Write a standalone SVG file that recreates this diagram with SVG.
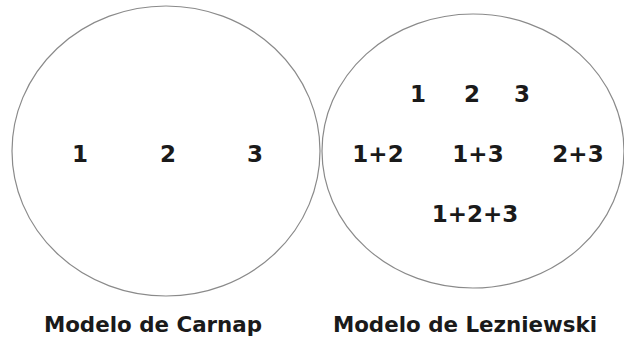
<svg xmlns="http://www.w3.org/2000/svg" width="624" height="339" viewBox="0 0 624 339">
<style>
.c{fill:none;stroke:#8a8a8a;stroke-width:1.2}
.t{font-family:"DejaVu Sans","Verdana",sans-serif;font-weight:bold;font-size:23px;fill:#1a1a1a;text-anchor:middle}
.l{font-family:"DejaVu Sans","Verdana",sans-serif;font-weight:bold;font-size:21.4px;fill:#1a1a1a;text-anchor:middle}
</style>
<rect width="624" height="339" fill="#fff"/>
<g id="carnap">
<ellipse class="c" cx="166" cy="151" rx="154" ry="145"/>
<text class="t" x="80" y="162">1</text>
<text class="t" x="168" y="162">2</text>
<text class="t" x="255" y="162">3</text>
<text class="l" x="153" y="332">Modelo de Carnap</text>
</g>
<g id="lezniewski">
<ellipse class="c" cx="473" cy="151" rx="151" ry="137"/>
<text class="t" x="418" y="102">1</text>
<text class="t" x="472" y="102">2</text>
<text class="t" x="522" y="102">3</text>
<text class="t" x="378" y="162">1+2</text>
<text class="t" x="478" y="162">1+3</text>
<text class="t" x="578" y="162">2+3</text>
<text class="t" x="475" y="222">1+2+3</text>
<text class="l" x="465" y="332">Modelo de Lezniewski</text>
</g>
<g id="connectors"/>
</svg>
